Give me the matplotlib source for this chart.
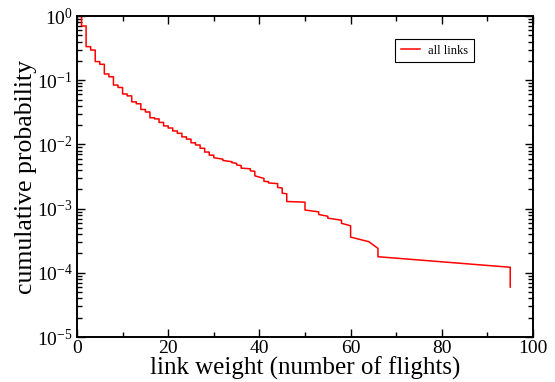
import matplotlib
matplotlib.use('Agg')

import numpy as np
import matplotlib.pyplot as plt
from matplotlib.ticker import FixedLocator, LogLocator, NullFormatter

# weights where the cumulative probability drops, with level just before / after the drop
drop_weight = [1, 2, 3, 4, 5, 6, 7, 8, 9, 10, 11, 12, 13, 14, 15, 16, 17, 18, 19, 20,
               21, 22, 23, 24, 25, 26, 27, 28, 29, 30, 32, 34, 35, 36, 38, 39, 41, 42,
               44, 45, 46, 50, 53, 55, 58, 60, 64, 66, 95]
p_before = [1.0, 0.70, 0.333, 0.295, 0.195, 0.177, 0.125, 0.113, 0.084, 0.077, 0.061,
            0.057, 0.046, 0.043, 0.035, 0.032, 0.026, 0.025, 0.022, 0.0194, 0.018,
            0.0162, 0.0149, 0.0131, 0.0121, 0.0106, 0.0098, 0.0087, 0.0076, 0.0068,
            0.00589, 0.00537, 0.00507, 0.00468, 0.00417, 0.0038, 0.00295, 0.00263,
            0.00245, 0.00209, 0.0017, 0.00126, 0.00089, 0.00076, 0.00066, 0.00054,
            0.000305, 0.00024, 0.000122]
p_after = [0.70, 0.333, 0.295, 0.195, 0.177, 0.125, 0.113, 0.084, 0.077, 0.061, 0.057,
           0.046, 0.043, 0.035, 0.032, 0.026, 0.025, 0.022, 0.0194, 0.018, 0.0162,
           0.0149, 0.0131, 0.0121, 0.0106, 0.0098, 0.0087, 0.0076, 0.0068, 0.0062,
           0.00562, 0.00519, 0.00479, 0.00427, 0.00389, 0.00324, 0.00266, 0.00251,
           0.00214, 0.00174, 0.00129, 0.00095, 0.00081, 0.00071, 0.00059, 0.00036,
           0.000305, 0.000178, 0.000060]

x_ticks = [0, 20, 40, 60, 80, 100]
y_decades = [0, -1, -2, -3, -4, -5]

# build the polyline: vertical drop at each weight, straight line to the next one
xs, ys = [], []
for w, a, b in zip(drop_weight, p_before, p_after):
    xs += [w, w]
    ys += [a, b]

plt.rcParams['font.family'] = 'Liberation Serif'
plt.rcParams['mathtext.fontset'] = 'custom'
plt.rcParams['mathtext.rm'] = 'Liberation Serif'
plt.rcParams['mathtext.it'] = 'Liberation Serif:italic'

fig = plt.figure(figsize=(5.55, 3.82), dpi=100)
ax = fig.add_axes([0.1387, 0.1178, 0.8217, 0.8403])

ax.plot(xs, ys, color='#ff0000', lw=1.1, label='all links')
ax.set_yscale('log')
ax.set_xlim(0, 100)
ax.set_ylim(1e-5, 1)

ax.xaxis.set_major_locator(FixedLocator(x_ticks))
ax.xaxis.set_minor_locator(FixedLocator([10, 30, 50, 70, 90]))
ax.set_xticklabels([str(t) for t in x_ticks])
ax.set_yticks([10.0 ** d for d in y_decades])
ax.set_yticklabels(['$10^{%d}$' % d for d in y_decades])
ax.yaxis.set_minor_locator(LogLocator(base=10, subs=np.arange(2, 10)))
ax.yaxis.set_minor_formatter(NullFormatter())

ax.tick_params(which='both', direction='in', top=True, right=True, width=1.0, labelsize=14)
ax.tick_params(which='major', length=6)
ax.tick_params(which='minor', length=3.5)
ax.tick_params(axis='x', pad=2)
ax.tick_params(axis='y', pad=3)
for s in ax.spines.values():
    s.set_linewidth(1.4)

ax.set_xlabel('link weight (number of flights)', fontsize=18, labelpad=0)
ax.set_ylabel('cumulative probability', fontsize=18.5, labelpad=0)

leg = ax.legend(loc='upper right', bbox_to_anchor=(0.871, 0.928), borderaxespad=0,
                fontsize=9, fancybox=False, framealpha=1, edgecolor='black',
                handlelength=1.5, handletextpad=0.7, borderpad=0.45)
leg.get_frame().set_linewidth(0.8)

plt.savefig('out.png', dpi=100)
plt.close()
